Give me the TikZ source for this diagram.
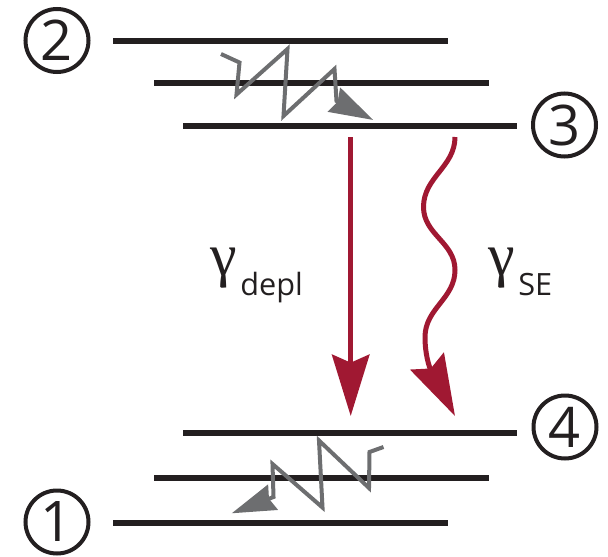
\documentclass[tikz,border=0pt]{standalone}
\usepackage{fontspec}
\setmainfont{Open Sans}
\newfontfamily\gfont{Liberation Serif}
\usetikzlibrary{arrows.meta}
\definecolor{lvlblack}{RGB}{35,31,32}
\definecolor{arrred}{RGB}{160,24,50}
\definecolor{zzgray}{RGB}{109,110,112}
\begin{document}
\begin{tikzpicture}[x=0.75pt,y=-0.75pt,
  level/.style={line width=4.5pt, draw=lvlblack},
  statelabel/.style={circle, draw=lvlblack, line width=3pt, minimum size=47.25pt, inner sep=0pt, font=\fontsize{42}{42}\selectfont, text=lvlblack},
  relax/.style={draw=zzgray, line width=3pt, miter limit=10, -{Stealth[length=33pt,width=20pt,inset=3pt]}},
  decay/.style={draw=arrred, line width=3.75pt, -{Stealth[length=46pt,width=28pt,inset=6pt]}},
  gam/.style={anchor=north west, inner sep=0pt, text=lvlblack, font=\gfont\fontsize{45}{45}\selectfont},
  sub/.style={anchor=base west, inner sep=0pt, text=lvlblack, font=\fontsize{23}{23}\selectfont}]
\useasboundingbox (0,0) rectangle (608,557);
% levels
\coordinate (l2a-w) at (113,40.7);  \coordinate (l2a-e) at (448,40.7);
\coordinate (l2b-w) at (154,83.3);  \coordinate (l2b-e) at (489,83.3);
\coordinate (l3-w)  at (183,125.5); \coordinate (l3-e)  at (517,125.5);
\coordinate (l4-w)  at (183,433.3); \coordinate (l4-e)  at (517,433.3);
\coordinate (l1b-w) at (154,477.7); \coordinate (l1b-e) at (489,477.7);
\coordinate (l1-w)  at (113,523.3); \coordinate (l1-e)  at (448,523.3);
\draw[level] (l2a-w) -- (l2a-e);
\draw[level] (l2b-w) -- (l2b-e);
\draw[level] (l3-w) -- (l3-e);
\draw[level] (l4-w) -- (l4-e);
\draw[level] (l1b-w) -- (l1b-e);
\draw[level] (l1-w) -- (l1-e);
% state labels
\node[statelabel] (s2) at (57,40.5) {2};
\node[statelabel] (s3) at (564.5,125) {3};
\node[statelabel] (s4) at (565,427) {4};
\node[statelabel] (s1) at (57,522) {1};
% top relaxation zigzag
\coordinate (zt0) at (221,54);
\coordinate (zt1) at (239.5,62.5);
\coordinate (zt2) at (236.5,94.5);
\coordinate (zt3) at (287.5,49);
\coordinate (zt4) at (283.5,116);
\coordinate (zt5) at (334.5,69);
\coordinate (zt6) at (336.5,101);
\coordinate (zt7) at (373.3,120);
\draw[relax] (zt0) -- (zt1) -- (zt2) -- (zt3) -- (zt4) -- (zt5) -- (zt6) -- (zt7);
% bottom relaxation zigzag
\coordinate (zb0) at (383.5,447);
\coordinate (zb1) at (369.5,452);
\coordinate (zb2) at (369,488);
\coordinate (zb3) at (319,440.5);
\coordinate (zb4) at (322.5,507.5);
\coordinate (zb5) at (272.5,464);
\coordinate (zb6) at (273.5,497);
\coordinate (zb7) at (231.7,513.3);
\draw[relax] (zb0) -- (zb1) -- (zb2) -- (zb3) -- (zb4) -- (zb5) -- (zb6) -- (zb7);
% depletion arrow
\coordinate (dep-s) at (350.7,137);
\coordinate (dep-t) at (350.7,416);
\draw[decay] (dep-s) -- (dep-t);
% spontaneous emission (wavy) arrow
\coordinate (se-s) at (455,137);
\coordinate (se-a) at (423.5,207);
\coordinate (se-b) at (455,270);
\coordinate (se-c) at (425,337);
\coordinate (se-t) at (455,416);
\draw[decay] (se-s) to[out=-90,in=90] (se-a) to[out=-90,in=90] (se-b) to[out=-90,in=90] (se-c) to[out=-90,in=117] (se-t);
% rate labels
\node[gam] (g1) at (210,248) {γ};
\node[sub] (g1s) at (240,295) {depl};
\node[gam] (g2) at (488,248) {γ};
\node[sub] (g2s) at (518,295) {SE};
\end{tikzpicture}
\end{document}
